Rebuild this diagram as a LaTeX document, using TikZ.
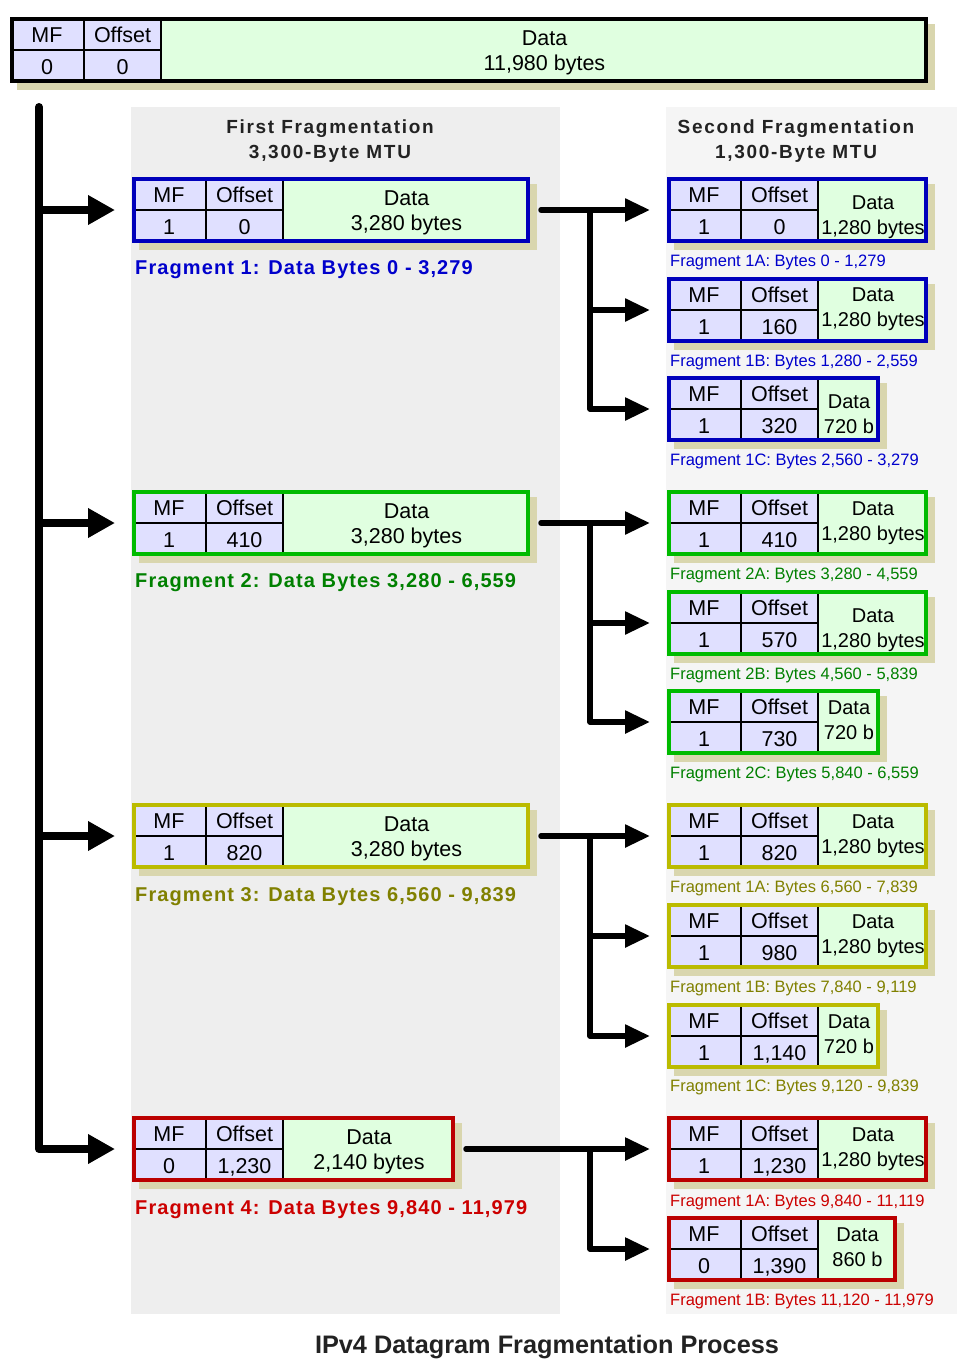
\documentclass[tikz,border=0pt]{standalone}
\usepackage{fontspec}
\setmainfont{Liberation Sans}
\usetikzlibrary{arrows.meta,calc}
\definecolor{hdrc}{HTML}{E0E0FF}
\definecolor{datac}{HTML}{E0FFE0}
\definecolor{shadowc}{HTML}{D9D6AE}
\definecolor{panelA}{HTML}{EEEEEE}
\definecolor{panelB}{HTML}{F5F5F5}
\definecolor{bblue}{HTML}{0000BB}
\definecolor{bgreen}{HTML}{00BB00}
\definecolor{byellow}{HTML}{BBBB00}
\definecolor{bred}{HTML}{BB0000}
\definecolor{lblue}{HTML}{0000CC}
\definecolor{lgreen}{HTML}{008000}
\definecolor{lyellow}{HTML}{808000}
\definecolor{lred}{HTML}{CC0000}
\definecolor{titlec}{HTML}{222222}
\newcommand\dfs{21.5}
\tikzset{
  celltext/.style={inner sep=0pt, text height=15.3pt, text depth=0pt, font=\fontsize{21.5}{25}\selectfont},
  datatext/.style={inner sep=0pt, text height=0.716*\dfs pt, text depth=0pt, font=\fontsize{\dfs}{25}\selectfont},
  cellline/.style={line width=2pt, black},
  pktframe/.style={line width=4pt, inner sep=0pt, fill=none},
  biglabel/.style={anchor=base west, inner sep=0pt, font=\fontsize{20}{24}\selectfont\bfseries\addfontfeature{LetterSpace=5.5}},
  smalllabel/.style={anchor=base west, inner sep=0pt, font=\fontsize{16.5}{20}\selectfont},
  coltitle/.style={anchor=base, inner sep=0pt, text=titlec, font=\fontsize{19}{23}\selectfont\bfseries\addfontfeature{LetterSpace=9}},
  maintitle/.style={anchor=base, inner sep=0pt, text=titlec, font=\fontsize{25.3}{30}\selectfont\bfseries},
  trunk/.style={line width=8pt, line cap=round, line join=round, -{Triangle[length=27pt,width=28pt]}},
  conn/.style={line width=5.5pt, line cap=round, line join=round, -{Triangle[length=25pt,width=22pt]}},
}
% #1 name, #2 x, #3 y, #4 width, #5 colour, #6 MF, #7 offset, #8 data size, #9 data shift
\newcommand\packet[9]{%
  \fill[shadowc] ({#2+7},{#3+7}) rectangle ({#2+#4+7},{#3+73});
  \fill[hdrc] (#2,#3) rectangle ({#2+151},{#3+66});
  \fill[datac] ({#2+151},#3) rectangle ({#2+#4},{#3+66});
  \draw[cellline] ({#2+74},#3) -- ({#2+74},{#3+66})
                  ({#2+151},#3) -- ({#2+151},{#3+66})
                  (#2,{#3+33}) -- ({#2+151},{#3+33});
  \node[pktframe, draw=#5, minimum width={#4pt-4pt}, minimum height=62pt] (#1) at ({#2+#4/2},{#3+33}) {};
  \node[celltext] (#1-mf) at ({#2+37},{#3+17.5}) {MF};
  \node[celltext] (#1-mfv) at ({#2+37},{#3+50}) {#6};
  \node[celltext] (#1-of) at ({#2+112.5},{#3+17.5}) {Offset};
  \node[celltext] (#1-ofv) at ({#2+112.5},{#3+50}) {#7};
  \node[datatext] (#1-d) at ({#2+151+(#4-151)/2},{#3+33+#9-12.5}) {Data};
  \node[datatext] (#1-dv) at ({#2+151+(#4-151)/2},{#3+33+#9+12.5}) {#8};
}
\begin{document}
\begin{tikzpicture}[x=1pt,y=-1pt]
\useasboundingbox (0,0) rectangle (969,1363);
\fill[white] (0,0) rectangle (969,1363);
% panels
\fill[panelA] (131,107) rectangle (560,1314);
\fill[panelB] (666,107) rectangle (957,1314);
% titles
\node[coltitle] (t1a) at (330,133) {First Fragmentation};
\node[coltitle] (t1b) at (330,158) {3,300-Byte MTU};
\node[coltitle] (t2a) at (796,133) {Second Fragmentation};
\node[coltitle] (t2b) at (796,158) {1,300-Byte MTU};
\node[maintitle] (mt) at (547,1353) {IPv4 Datagram Fragmentation Process};
% original datagram
\packet{orig}{10}{17}{918}{black}{0}{0}{11,980 bytes}{0}
% first fragmentation
\packet{f1}{132}{177}{398}{bblue}{1}{0}{3,280 bytes}{0}
\packet{f2}{132}{490}{398}{bgreen}{1}{410}{3,280 bytes}{0}
\packet{f3}{132}{803}{398}{byellow}{1}{820}{3,280 bytes}{0}
\packet{f4}{132}{1116}{323}{bred}{0}{1,230}{2,140 bytes}{0}
\node[biglabel, text=lblue] (l1) at (135,274.5) {Fragment 1: Data Bytes 0 - 3,279};
\node[biglabel, text=lgreen] (l2) at (135,587.5) {Fragment 2: Data Bytes 3,280 - 6,559};
\node[biglabel, text=lyellow] (l3) at (135,901.5) {Fragment 3: Data Bytes 6,560 - 9,839};
\node[biglabel, text=lred] (l4) at (135,1214.5) {Fragment 4: Data Bytes 9,840 - 11,979};
% second fragmentation
\renewcommand\dfs{20}
\packet{f1a}{667}{177}{261}{bblue}{1}{0}{1,280 bytes}{4.5}
\packet{f1b}{667}{277}{261}{bblue}{1}{160}{1,280 bytes}{-3.5}
\packet{f1c}{667}{376}{213}{bblue}{1}{320}{720 b}{4.5}
\packet{f2a}{667}{490}{261}{bgreen}{1}{410}{1,280 bytes}{-2.5}
\packet{f2b}{667}{590}{261}{bgreen}{1}{570}{1,280 bytes}{4.5}
\packet{f2c}{667}{689}{213}{bgreen}{1}{730}{720 b}{-2.5}
\packet{f3a}{667}{803}{261}{byellow}{1}{820}{1,280 bytes}{-2.5}
\packet{f3b}{667}{903}{261}{byellow}{1}{980}{1,280 bytes}{-2.5}
\packet{f3c}{667}{1003}{213}{byellow}{1}{1,140}{720 b}{-2.5}
\packet{f4a}{667}{1116}{261}{bred}{1}{1,230}{1,280 bytes}{-2.5}
\packet{f4b}{667}{1216}{230}{bred}{0}{1,390}{860 b}{-2.5}
\node[smalllabel, text=lblue] (l1a) at (670,266) {Fragment 1A: Bytes 0 - 1,279};
\node[smalllabel, text=lblue] (l1b) at (670,366) {Fragment 1B: Bytes 1,280 - 2,559};
\node[smalllabel, text=lblue] (l1c) at (670,465) {Fragment 1C: Bytes 2,560 - 3,279};
\node[smalllabel, text=lgreen] (l2a) at (670,579) {Fragment 2A: Bytes 3,280 - 4,559};
\node[smalllabel, text=lgreen] (l2b) at (670,679) {Fragment 2B: Bytes 4,560 - 5,839};
\node[smalllabel, text=lgreen] (l2c) at (670,778) {Fragment 2C: Bytes 5,840 - 6,559};
\node[smalllabel, text=lyellow] (l3a) at (670,892) {Fragment 1A: Bytes 6,560 - 7,839};
\node[smalllabel, text=lyellow] (l3b) at (670,992) {Fragment 1B: Bytes 7,840 - 9,119};
\node[smalllabel, text=lyellow] (l3c) at (670,1091) {Fragment 1C: Bytes 9,120 - 9,839};
\node[smalllabel, text=lred] (l4a) at (670,1206) {Fragment 1A: Bytes 9,840 - 11,119};
\node[smalllabel, text=lred] (l4b) at (670,1305) {Fragment 1B: Bytes 11,120 - 11,979};
% left trunk
\coordinate (ttop) at (39,107);
\draw[trunk, shorten >=17pt] (ttop) |- (f4.west);
\draw[trunk, line cap=butt, shorten >=17pt] (ttop |- f1.west) -- (f1.west);
\draw[trunk, line cap=butt, shorten >=17pt] (ttop |- f2.west) -- (f2.west);
\draw[trunk, line cap=butt, shorten >=17pt] (ttop |- f3.west) -- (f3.west);
% right connectors
\coordinate (j1) at (590,0 |- f1.east);
\coordinate (j2) at (590,0 |- f2.east);
\coordinate (j3) at (590,0 |- f3.east);
\coordinate (j4) at (590,0 |- f4.east);
\foreach \g/\a/\b in {1/1a/1b, 2/2a/2b, 3/3a/3b, 4/4a/4b}{
  \draw[conn, shorten >=17pt] ([xshift=11pt]f\g.east) -- (f\a.west);
  \draw[conn, shorten >=17pt] (j\g) |- (f\b.west);
}
\foreach \g/\c in {1/1c, 2/2c, 3/3c}{
  \draw[conn, shorten >=17pt] (j\g) |- (f\c.west);
}
\end{tikzpicture}
\end{document}
